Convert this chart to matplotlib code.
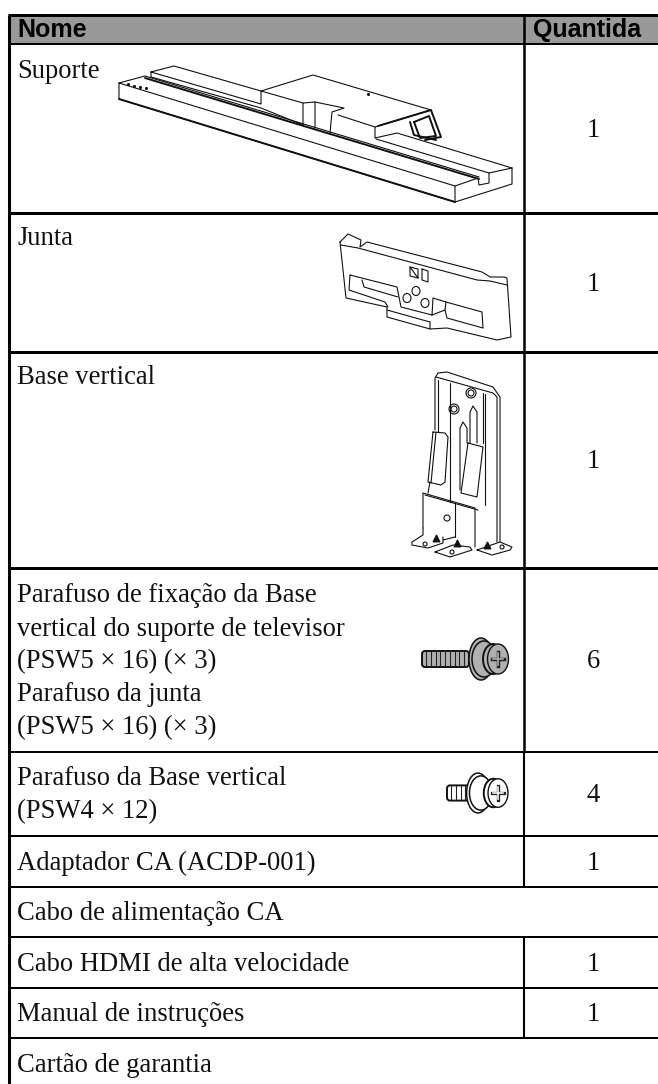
import matplotlib
matplotlib.use("Agg")
import matplotlib.pyplot as plt
from matplotlib.patches import Ellipse, Rectangle, FancyBboxPatch

# table layout, in image pixels
W, H = 658, 1084
col_x = 524
left_x = 9
row_y = [15, 44, 213, 352, 568, 752, 836, 887, 937, 988, 1038]
row_lw = [3, 2, 3, 3, 3, 2, 2, 2, 2, 2, 2]
no_split = [(887, 937), (1038, 1084)]

headers = ["Nome", "Quantida"]

names = ["Suporte", "Junta", "Base vertical",
         "Parafuso de fixação da Base", "vertical do suporte de televisor",
         "(PSW5 × 16) (× 3)", "Parafuso da junta", "(PSW5 × 16) (× 3)",
         "Parafuso da Base vertical", "(PSW4 × 12)",
         "Adaptador CA (ACDP-001)", "Cabo de alimentação CA",
         "Cabo HDMI de alta velocidade", "Manual de instruções",
         "Cartão de garantia"]
name_y = [78, 245, 384, 602, 636, 668, 701, 734, 785, 818, 870, 920, 971, 1021, 1072]

qty = ["1", "1", "1", "6", "4", "1", "1", "1"]
qty_y = [137, 291, 468, 668, 802, 870, 971, 1021]

# line art outlines
suporte = [
    [(119, 83), (145, 76), (479, 177)],
    [(119, 83), (119, 99), (455, 202), (455, 186), (119, 83)],
    [(455, 202), (512, 184), (512, 168)],
    [(455, 186), (478, 178), (479, 185), (489, 183), (489, 173), (512, 168)],
    [(151, 77), (151, 72), (174, 66), (261, 91), (261, 104), (151, 72)],
    [(151, 77), (261, 108), (303, 125)],
    [(261, 91), (313, 75), (431, 110), (375, 127), (375, 138), (397, 133), (512, 168)],
    [(261, 91), (303, 103), (303, 125)],
    [(303, 103), (315, 102), (315, 128)],
    [(315, 102), (344, 108), (332, 112), (330, 133)],
    [(338, 115), (375, 127)],
    [(376, 139), (489, 173)],
]
suporte_thick = [
    [(145, 78), (479, 179)],
    [(119, 99), (455, 202)],
    [(378, 126), (431, 110), (441, 137), (425, 140)],
    [(410, 122), (414, 135), (436, 140)],
    [(414, 122), (429, 116), (436, 136), (420, 138), (414, 122)],
]
suporte_dots = [(128, 84), (134, 86), (140, 87), (146, 88), (368, 94)]

junta = [
    [(340, 242), (348, 234), (361, 240), (360, 247), (367, 242), (482, 272), (487, 275),
     (490, 277), (504, 277), (507, 278), (511, 337), (497, 340), (447, 328), (430, 329),
     (387, 317), (387, 307), (346, 298), (340, 242)],
    [(341, 245), (358, 248), (477, 280), (490, 281), (507, 285)],
    [(350, 275), (397, 287), (401, 307), (432, 315), (445, 310), (446, 302), (433, 298), (432, 315)],
    [(446, 302), (482, 312), (483, 328), (447, 318), (445, 310)],
    [(350, 275), (349, 290), (385, 302), (388, 307)],
    [(362, 280), (364, 287), (398, 297)],
    [(387, 310), (430, 322), (430, 329)],
    [(410, 267), (418, 269), (418, 278), (410, 276), (410, 267), (418, 278)],
    [(422, 269), (428, 271), (428, 282), (422, 280), (422, 269)],
]
junta_holes = [(407, 298), (416, 291), (425, 303)]

base = [
    [(435, 430), (435, 378), (438, 373), (447, 372), (493, 387), (500, 397), (500, 542)],
    [(436, 377), (493, 393), (497, 397), (497, 542)],
    [(438, 380), (438, 432)],
    [(450, 383), (450, 502)],
    [(483, 393), (483, 443)],
    [(485, 394), (485, 505)],
    [(433, 432), (445, 433), (448, 437), (445, 482), (441, 485), (428, 482), (433, 432)],
    [(436, 432), (431, 483)],
    [(468, 443), (483, 447), (477, 497), (461, 493), (468, 443)],
    [(470, 443), (470, 412), (473, 406), (477, 412), (477, 443)],
    [(460, 490), (460, 428), (463, 422), (467, 428), (467, 443)],
    [(430, 482), (428, 493)],
    [(423, 528), (423, 493), (475, 508), (475, 547)],
    [(425, 495), (478, 510)],
    [(455, 503), (455, 537)],
    [(423, 528), (423, 535), (412, 542), (412, 545), (428, 548), (443, 543), (443, 537)],
    [(443, 540), (455, 537)],
    [(435, 552), (453, 545), (470, 547), (472, 550), (450, 557), (435, 552)],
    [(477, 550), (500, 542), (512, 547), (510, 550), (492, 555), (477, 550)],
]
base_holes = [(471, 393, 5), (471, 393, 3), (454, 409, 5), (454, 409, 3), (447, 518, 3),
              (425, 544, 2), (452, 552, 2), (502, 547, 2)]
base_feet = [(436, 538), (457, 543), (487, 545)]

# screws: shaft left, shaft right, centre y, threads, washer x, head x, scale, fill
screws = [(422, 469, 659, 9, 481, 498, 1.0, "#b0b0b0"),
          (447, 470, 793, 4, 478, 498, 0.95, "white")]


def outline(ax, paths, lw=0.8):
    for p in paths:
        ax.plot([a[0] for a in p], [a[1] for a in p], color="#111111", lw=lw,
                solid_capstyle="round", solid_joinstyle="round")


def screw(ax, x0, x1, y, n, xw, xh, s, fill):
    ax.add_patch(FancyBboxPatch((x0, y - 8 * s), x1 - x0, 16 * s,
                                boxstyle="round,pad=0,rounding_size=3",
                                fc=fill, ec="#111111", lw=1.4))
    for i in range(n):
        xt = x0 + 4 + i * (x1 - x0 - 4) / n
        ax.plot([xt, xt], [y - 7 * s, y + 7 * s], color="#222222", lw=0.8)
    ax.add_patch(Ellipse((xw, y), 24 * s, 42 * s, fc=fill, ec="#111111", lw=1.1))
    ax.add_patch(Ellipse((xw + 3 * s, y), 24 * s, 36 * s, fc=fill, ec="#111111", lw=1.1))
    ax.add_patch(Ellipse((xh - 5 * s, y), 20 * s, 30 * s, fc=fill, ec="#111111", lw=1.4))
    ax.add_patch(Ellipse((xh, y), 21 * s, 30 * s, fc=fill, ec="#111111", lw=1))
    ax.plot([xh - 6 * s, xh + 6 * s], [y, y], color="#222222", lw=2.5 * s)
    ax.plot([xh, xh], [y - 7 * s, y + 7 * s], color="#222222", lw=2.5 * s)
    ax.plot([xh - 5 * s, xh + 5 * s], [y, y], color=fill, lw=1.2 * s)
    ax.plot([xh, xh], [y - 6 * s, y + 6 * s], color=fill, lw=1.2 * s)


fig = plt.figure(figsize=(W / 100, H / 100), dpi=100)
ax = fig.add_axes([0, 0, 1, 1])
ax.set_xlim(0, W)
ax.set_ylim(H, 0)
ax.axis("off")

# header band
ax.add_patch(Rectangle((left_x, row_y[0]), W - left_x, row_y[1] - row_y[0], fc="#999999", ec="none"))

# rules
for y, lw in zip(row_y, row_lw):
    ax.plot([left_x - 1, W], [y, y], color="black", lw=lw * 0.72, solid_capstyle="butt")
ax.plot([left_x, left_x], [row_y[0], H], color="black", lw=2.2, solid_capstyle="butt")
for y0, y1 in zip(row_y + [row_y[-1]], row_y[1:] + [H]):
    if (y0, y1) not in no_split and y0 != y1:
        ax.plot([col_x, col_x], [y0, y1], color="black", lw=1.8 if y0 < 752 else 1.5, solid_capstyle="butt")

# text
ax.text(17, 37, headers[0], family="Liberation Sans", weight="bold", fontsize=18, va="baseline")
ax.text(533, 37, headers[1], family="Liberation Sans", weight="bold", fontsize=18, va="baseline")
for t, y in zip(names, name_y):
    ax.text(17, y, t, family="Liberation Serif", fontsize=19.2, va="baseline", color="#111111")
for t, y in zip(qty, qty_y):
    ax.text(593, y, t, family="Liberation Serif", fontsize=19.2, va="baseline", ha="center", color="#111111")

# drawings
outline(ax, suporte)
outline(ax, suporte_thick, lw=1.4)
ax.scatter([p[0] for p in suporte_dots], [p[1] for p in suporte_dots], s=1.5, color="#111111")
outline(ax, junta)
for c in junta_holes:
    ax.add_patch(Ellipse(c, 8, 9, fc="none", ec="#111111", lw=0.8))
outline(ax, base)
for x, y, r in base_holes:
    ax.add_patch(Ellipse((x, y), 2 * r, 2 * r, fc="none", ec="#111111", lw=0.8))
ax.scatter([p[0] for p in base_feet], [p[1] for p in base_feet], marker="^", s=22, color="#111111")
for s in screws:
    screw(ax, *s)

fig.savefig("out.png", dpi=100)
